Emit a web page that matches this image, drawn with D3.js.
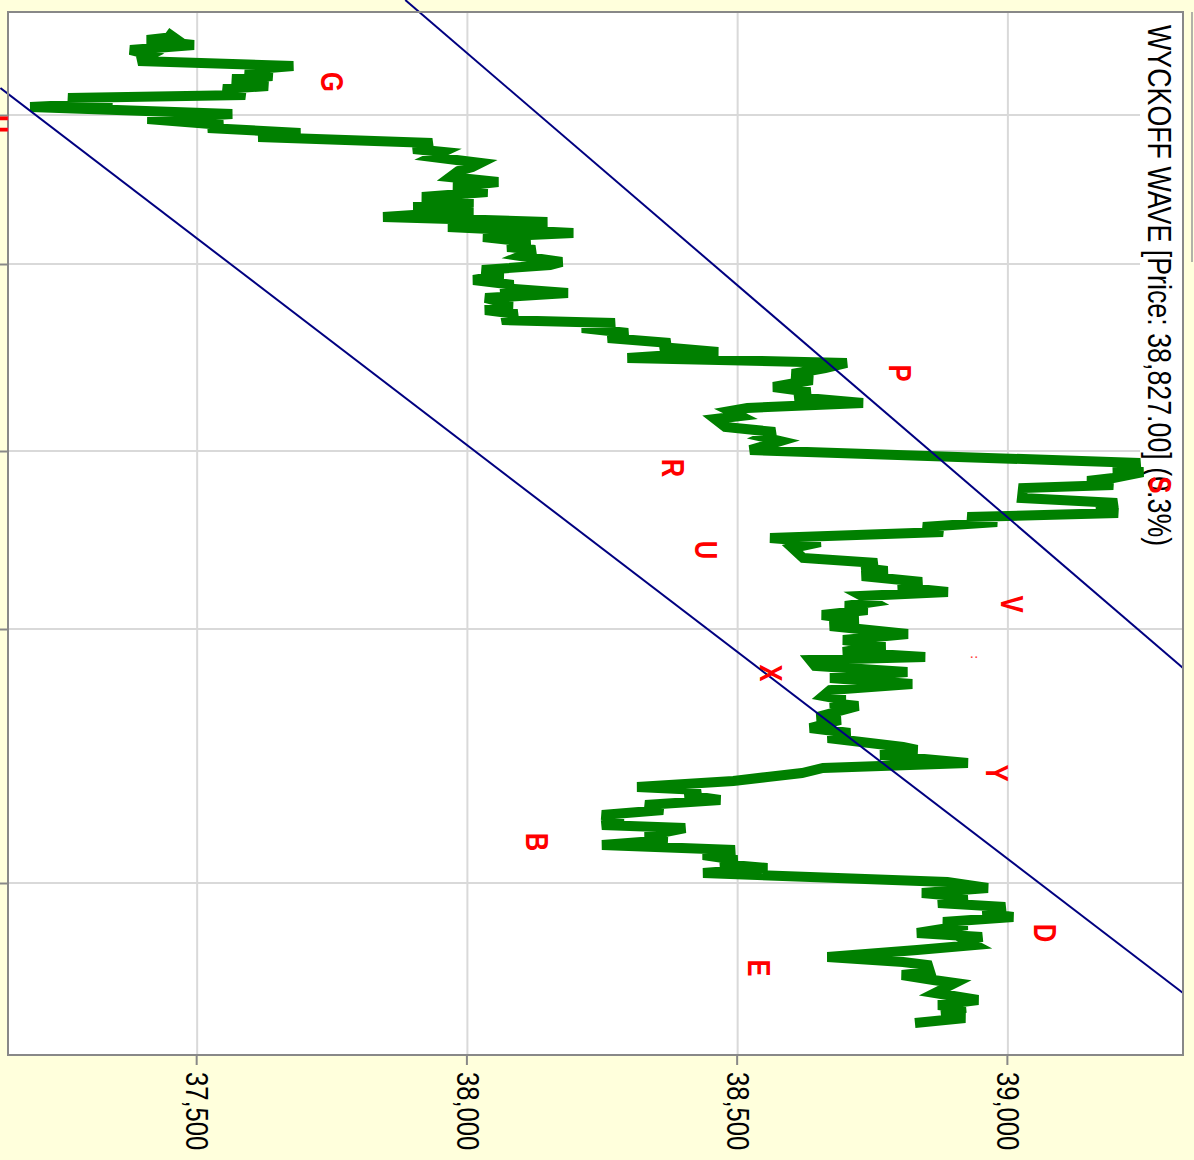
<!DOCTYPE html>
<html>
<head>
<meta charset="utf-8">
<script src="https://cdn.jsdelivr.net/npm/d3@7"></script>
<style>
  body { margin: 0; background: #ffffdc; }
  svg { display: block; }
</style>
</head>
<body>
<svg id="chart"></svg>
<script>
// bar sequence number and price of each point of the wave
const seq = [20,25,28,33,38,43,49,54,58,64,67,74,77,83,86,91,95,102,107,113,
  116,121,125,131,137,140,145,151,155,159,165,170,175,180,185,190,195,199,205,210,
  215,221,225,230,235,238,244,250,253,258,263,268,273,276,281,286,293,298,302,308,
  311,316,321,326,331,335,340,346,351,
  356,362,368,375,380,385,391,396,399,404,407,415,420,425,429,438,
  451,456,460,466,469,473,476,486,491,498,501,505,510,515,520,526,
  530,536,546,551,556,559,564,570,575,580,584,590,594,598,603,608,614,622,628,633,
  640,645,648,654,660,666,672,678,684,688,691,694,705,708,716,721,726,735,738,743,751,
  756,761,765,769,775,778,783,788,793,798,803,808,813,816,824,828,833,838,843,848,
  852,856,861,870,876,881,885,891,895,901,905,910,913,921,925,929,933,938,945,950,
  953,960,963,968,971,981,988,993,996,1003,1006,1011];
const price = [37443,37456,37407,37494,37376,37413,37391,37678,37589,37639,37565,37631,37548,37589,37261,37343,37191,37565,37408,37548,
  37520,37691,37613,37935,37900,37955,37935,38024,38009,37983,37968,38057,37974,38037,37916,38011,37900,38011,37844,38148,
  37964,38196,38029,38116,38074,38125,38098,38175,38153,38027,38066,38011,38085,38061,38186,38033,38083,38033,38092,38064,
  38273,38212,38297,38260,38375,38357,38464,38296,38702,
  38662,38601,38638,38566,38634,38606,38732,38518,38486,38505,38458,38477,38569,38547,38579,38523,
  39245,39195,39250,39195,39147,39195,39028,39026,39202,39165,39204,38925,38980,38843,38880,38560,
  38653,38601,38621,38758,38730,38777,38730,38841,38797,38889,38730,38751,38699,38740,38656,38723,38671,38815,38695,38773,
  38695,38847,38634,38643,38814,38671,38823,38671,38658,38699,38671,38723,38647,38690,38634,38708,38667,38806,38832,38764,38926,
  38658,38619,38555,38492,38314,38431,38403,38468,38329,38362,38249,38288,38249,38403,38329,38370,38249,38495,38436,38499,
  38468,38555,38436,38888,38963,38841,38925,38871,38995,38954,39010,38880,38925,38832,38952,38925,38939,38832,38666,38806,
  38852,38856,38804,38862,38902,38865,38945,38871,38921,38878,38921,38828];

const timeGrid = [103, 252, 439, 617, 871];
const priceTicks = [37500, 38000, 38500, 39000];

// wave labels
const labelText  = ["H","G","P","R","S","U","V",":","X","Y","B","D","E"];
const labelSeq   = [112,70,361,456,473,538,592,645,661,761,830,921,956];
const labelPrice = [37130,37750,38801,38381,39282,38442,39008,38939,38562,38980,38129,39069,38540];

// channel lines (two end points each)
const upperSeq = [-12, 656], upperPrice = [37885, 39324];
const lowerSeq = [76, 981],  lowerPrice = [37136, 39324];

const title = "WYCKOFF WAVE [Price: 38,827.00] (0.3%)";

const W = 1194, H = 1160;
const svg = d3.select("#chart").attr("width", W).attr("height", H);
svg.append("rect").attr("width", W).attr("height", H).attr("fill", "#ffffdc");

// the chart is drawn upright (1160 wide, 1194 tall) and then turned a quarter turn
let g = svg.append("g").attr("transform", `translate(${W},0) rotate(90)`);

let plot = { left: 12, right: 1055, top: 11, bottom: 1186 };
let x = d3.scaleLinear().domain([0, 1043]).range([plot.left, plot.right]);
let y = d3.scaleLinear().domain([37150, 39324]).range([plot.bottom, plot.top]);
const squeeze = 0.8; // text is narrower than tall in the picture

g.append("rect")
  .attr("x", plot.left).attr("y", plot.top)
  .attr("width", plot.right - plot.left).attr("height", plot.bottom - plot.top)
  .attr("fill", "#fff");

// grid
g.selectAll(".vgrid").data(timeGrid).enter().append("line")
  .attr("x1", d => x(d)).attr("x2", d => x(d))
  .attr("y1", plot.top).attr("y2", plot.bottom)
  .attr("stroke", "#d9d9d9").attr("stroke-width", 2);
g.selectAll(".hgrid").data(priceTicks).enter().append("line")
  .attr("x1", plot.left).attr("x2", plot.right)
  .attr("y1", d => y(d)).attr("y2", d => y(d))
  .attr("stroke", "#d9d9d9").attr("stroke-width", 2);

// title box hides the grid behind it
g.append("rect").attr("x", 20).attr("y", plot.top + 1).attr("width", 540).attr("height", 42).attr("fill", "#fff");
g.append("text")
  .attr("transform", `translate(25,46) scale(${squeeze},1)`)
  .attr("font-family", "'Liberation Sans', Arial, sans-serif")
  .attr("font-size", 33.5)
  .attr("fill", "#000")
  .text(title);

// wave
let line = d3.line().x(i => x(seq[i])).y(i => y(price[i]));
g.append("path")
  .attr("d", line(d3.range(seq.length)))
  .attr("fill", "none").attr("stroke", "#008000").attr("stroke-width", 10);

// channel
let chan = d3.line().x(d => x(d[0])).y(d => y(d[1]));
[[upperSeq, upperPrice], [lowerSeq, lowerPrice]].forEach(([s, p]) => {
  g.append("path")
    .attr("d", chan([[s[0], p[0]], [s[1], p[1]]]))
    .attr("fill", "none").attr("stroke", "#000080").attr("stroke-width", 2);
});

// frame
g.append("rect")
  .attr("x", plot.left).attr("y", plot.top)
  .attr("width", plot.right - plot.left).attr("height", plot.bottom - plot.top)
  .attr("fill", "none").attr("stroke", "#888").attr("stroke-width", 2);

// price axis
let axisY = g.append("g").attr("transform", `translate(${plot.right},0)`)
  .call(d3.axisRight(y).tickValues(priceTicks).tickSize(10).tickPadding(7).tickFormat(d3.format(",")));
axisY.select(".domain").remove();
axisY.selectAll("line").attr("stroke", "#888").attr("stroke-width", 2);
axisY.selectAll("text")
  .attr("x", 17 / squeeze)
  .attr("transform", `scale(${squeeze},1)`)
  .attr("font-family", "'Liberation Sans', Arial, sans-serif")
  .attr("font-size", 32).attr("fill", "#000");

// time axis, labels fall outside the picture
let axisX = g.append("g").attr("transform", `translate(0,${plot.bottom})`)
  .call(d3.axisBottom(x).tickValues(timeGrid).tickSize(8).tickFormat(""));
axisX.select(".domain").remove();
axisX.selectAll("line").attr("stroke", "#888").attr("stroke-width", 2);

// right-hand edge of the panel beside the chart
g.append("line").attr("x1", 12).attr("x2", 262).attr("y1", 2).attr("y2", 2)
  .attr("stroke", "#999").attr("stroke-width", 1.5);

// labels
g.selectAll(".lbl").data(labelText).enter().append("text")
  .attr("transform", (d, i) => `translate(${x(labelSeq[i])},${y(labelPrice[i])}) scale(${squeeze},1)`)
  .attr("text-anchor", "middle").attr("dy", "0.36em")
  .attr("font-family", "'Liberation Sans', Arial, sans-serif")
  .attr("font-weight", "bold")
  .attr("font-size", d => d === ":" ? 10 : 32)
  .attr("fill", "#ff0000")
  .text(d => d);
</script>
</body>
</html>
